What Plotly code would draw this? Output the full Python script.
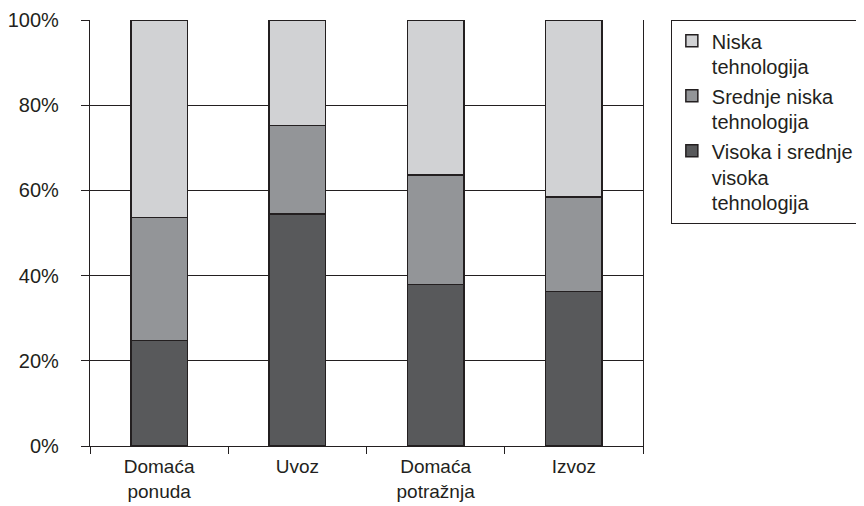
import plotly.graph_objects as go

categories = ["Domaća<br>ponuda", "Uvoz", "Domaća<br>potražnja", "Izvoz"]
visoka = [24.8, 54.5, 37.9, 36.3]
srednje_niska = [28.8, 20.7, 25.7, 22.2]
niska = [100 - a - b for a, b in zip(visoka, srednje_niska)]
series_names = ["Visoka i srednje<br>visoka<br>tehnologija", "Srednje niska<br>tehnologija", "Niska<br>tehnologija"]
colors = ["#58595b", "#939598", "#d1d2d4"]
y_ticks = [0, 20, 40, 60, 80, 100]
y_labels = ["0%", "20%", "40%", "60%", "80%", "100%"]

FONT = "Liberation Sans, Arial, sans-serif"
fig = go.Figure()
for name, vals, col in zip(series_names, [visoka, srednje_niska, niska], colors):
    fig.add_trace(go.Bar(
        x=categories, y=vals, name=name, width=0.41,
        marker=dict(color=col, line=dict(color="#231f20", width=1.5)),
    ))

fig.update_layout(
    barmode="stack",
    width=864, height=506,
    margin=dict(l=82, r=229, t=12, b=68, autoexpand=False),
    paper_bgcolor="white", plot_bgcolor="white",
    font=dict(family=FONT, size=20, color="#231f20"),
    showlegend=True,
    legend=dict(
        x=1.05, y=1.0, xanchor="left", yanchor="top",
        traceorder="reversed", valign="top",
        bordercolor="#231f20", borderwidth=1.2,
        font=dict(family=FONT, size=20, color="#231f20"),
        itemwidth=30,
    ),
    xaxis=dict(
        automargin=False,
        showline=True, linecolor="#231f20", linewidth=1.2,
        ticks="outside", tickson="boundaries", ticklen=7, tickcolor="#231f20",
        ticklabelstandoff=3,
        tickfont=dict(family=FONT, size=19, color="#231f20"),
        showgrid=False,
    ),
    yaxis=dict(
        automargin=False,
        range=[0, 100], tickvals=y_ticks, ticktext=y_labels,
        showline=True, linecolor="#231f20", linewidth=1.2, mirror=True,
        ticks="outside", ticklen=8, tickcolor="#231f20",
        ticklabelstandoff=18,
        showgrid=True, gridcolor="#231f20", gridwidth=1,
        zeroline=False,
    ),
)

fig.write_html("out.html")
